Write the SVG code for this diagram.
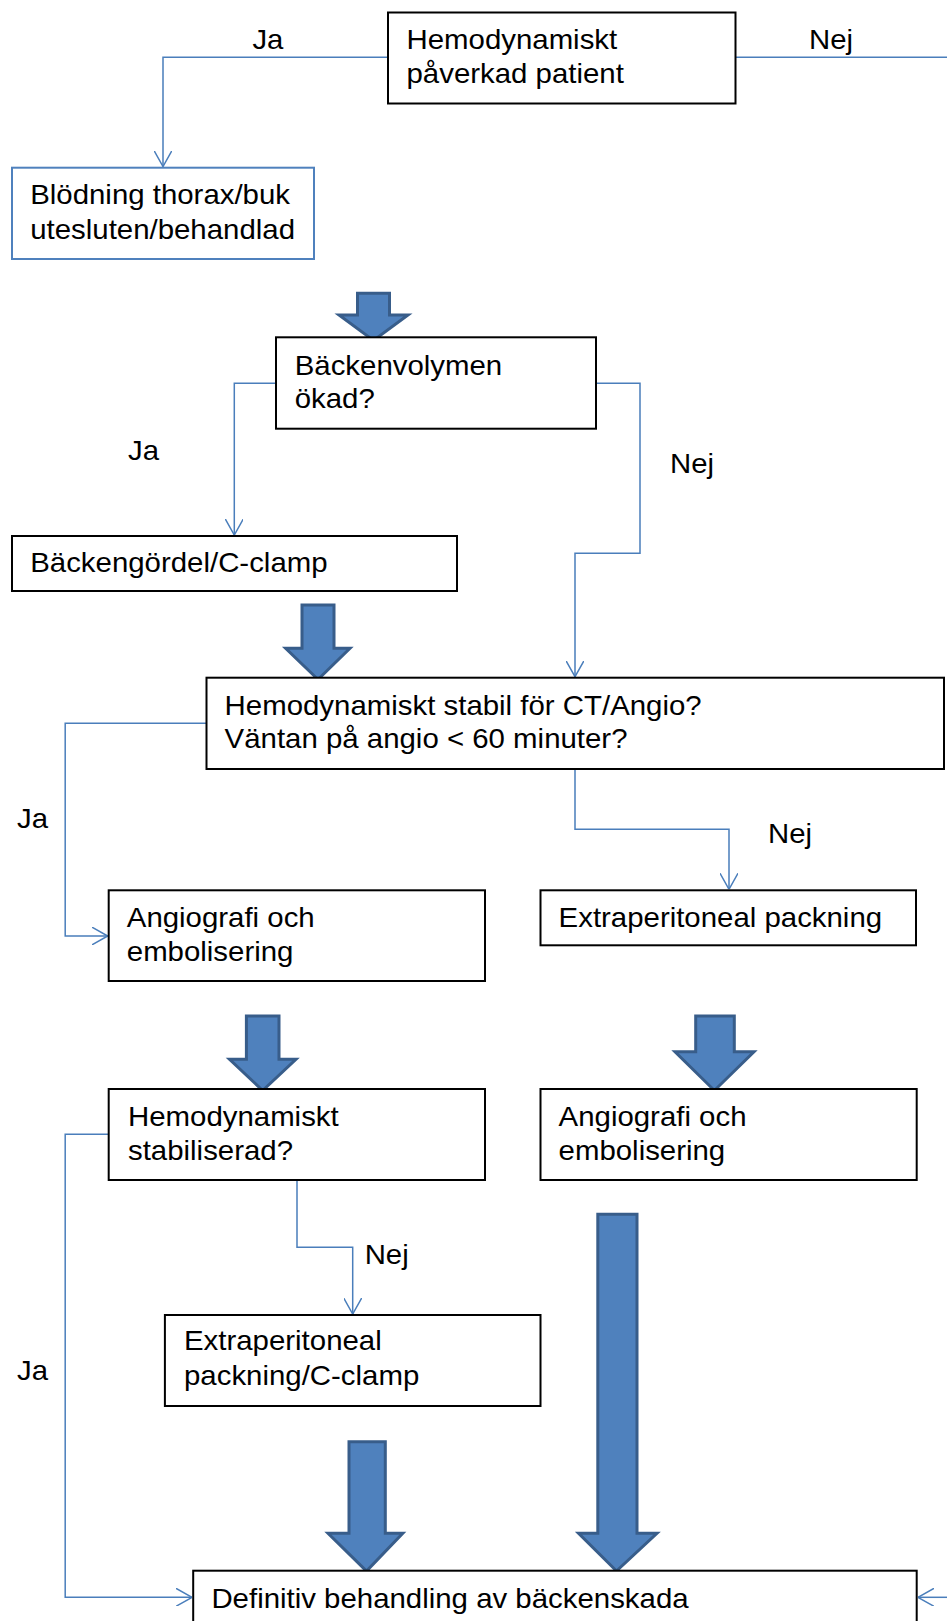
<svg xmlns="http://www.w3.org/2000/svg" width="947" height="1621" viewBox="0 0 947 1621">
<defs>
<style>
.box{fill:#fff;stroke:#000;stroke-width:2}
.bbox{fill:#fff;stroke:#4f81bd;stroke-width:2}
.t{font-family:"Liberation Sans",Arial,sans-serif;font-size:27.8px;fill:#000}
.c{fill:none;stroke:#4a7ebb;stroke-width:1.5}
.big{fill:#4f81bd;stroke:#385d8a;stroke-width:3;stroke-linejoin:miter}
</style>
<marker id="v" viewBox="0 0 16 18" refX="16" refY="9" markerWidth="16" markerHeight="18" markerUnits="userSpaceOnUse" orient="auto">
<path d="M0,0 L16,9 L0,18" fill="none" stroke="#4a7ebb" stroke-width="1.5"/>
</marker>
</defs>
<rect width="947" height="1621" fill="#fff"/>

<g id="connectors">
<path class="c" d="M388,57.3 H163 V166.5" marker-end="url(#v)"/>
<path class="c" d="M735.5,57.3 H947"/>
<path class="c" d="M276,383.3 H234.3 V535" marker-end="url(#v)"/>
<path class="c" d="M596,383.3 H640 V553.3 H575 V676.7" marker-end="url(#v)"/>
<path class="c" d="M206.5,723.3 H65.2 V936 H107.7" marker-end="url(#v)"/>
<path class="c" d="M575,769 V829.3 H729 V889.3" marker-end="url(#v)"/>
<path class="c" d="M108.7,1134.3 H65.2 V1597.3 H192" marker-end="url(#v)"/>
<path class="c" d="M297,1180 V1247.3 H352.7 V1314" marker-end="url(#v)"/>
<path class="c" d="M947,1597.3 H918" marker-end="url(#v)"/>
<polygon class="big" points="357.5,293.3 389.5,293.3 389.5,315 408,315 373.5,340.5 339,315 357.5,315"/>
<polygon class="big" points="302,605 334,605 334,648.3 350,648.3 318,679.5 285.6,648.3 302,648.3"/>
<polygon class="big" points="246.4,1016 279,1016 279,1059.3 296,1059.3 262.7,1090.5 229.5,1059.3 246.4,1059.3"/>
<polygon class="big" points="695.7,1016 734.3,1016 734.3,1051.7 754,1051.7 714.4,1090.5 675,1051.7 695.7,1051.7"/>
<polygon class="big" points="349,1441.7 385.3,1441.7 385.3,1533.3 402.8,1533.3 366.5,1571 328,1533.3 349,1533.3"/>
<polygon class="big" points="597.8,1214.3 637,1214.3 637,1533.3 657,1533.3 616.5,1571 578.5,1533.3 597.8,1533.3"/>
<text class="t" x="252.4" y="49.3" textLength="31" lengthAdjust="spacingAndGlyphs">Ja</text>
<text class="t" x="809" y="49.3" textLength="44" lengthAdjust="spacingAndGlyphs">Nej</text>
<text class="t" x="128" y="460" textLength="31" lengthAdjust="spacingAndGlyphs">Ja</text>
<text class="t" x="670" y="473.3" textLength="44" lengthAdjust="spacingAndGlyphs">Nej</text>
<text class="t" x="17" y="827.7" textLength="31" lengthAdjust="spacingAndGlyphs">Ja</text>
<text class="t" x="768" y="843.3" textLength="44" lengthAdjust="spacingAndGlyphs">Nej</text>
<text class="t" x="364.7" y="1264" textLength="44" lengthAdjust="spacingAndGlyphs">Nej</text>
<text class="t" x="17" y="1380" textLength="31" lengthAdjust="spacingAndGlyphs">Ja</text>
</g>

<g id="n1">
<rect class="box" x="388" y="12.5" width="347.5" height="91"/>
<text class="t" x="406.5" y="49.3" textLength="210.7" lengthAdjust="spacingAndGlyphs">Hemodynamiskt</text>
<text class="t" x="406.5" y="82.7" textLength="217.4" lengthAdjust="spacingAndGlyphs">påverkad patient</text>
</g>
<g id="n2">
<rect class="bbox" x="12" y="167.7" width="302" height="91.3"/>
<text class="t" x="30.2" y="204.3" textLength="259.8" lengthAdjust="spacingAndGlyphs">Blödning thorax/buk</text>
<text class="t" x="30.2" y="238.5" textLength="264.8" lengthAdjust="spacingAndGlyphs">utesluten/behandlad</text>
</g>
<g id="n3">
<rect class="box" x="276" y="337.3" width="320" height="91.4"/>
<text class="t" x="294.7" y="375" textLength="207.5" lengthAdjust="spacingAndGlyphs">Bäckenvolymen</text>
<text class="t" x="294.7" y="408.3" textLength="80.1" lengthAdjust="spacingAndGlyphs">ökad?</text>
</g>
<g id="n4">
<rect class="box" x="12" y="536" width="445" height="55"/>
<text class="t" x="30.2" y="571.7" textLength="297.4" lengthAdjust="spacingAndGlyphs">Bäckengördel/C-clamp</text>
</g>
<g id="n5">
<rect class="box" x="206.5" y="677.7" width="737.5" height="91.3"/>
<text class="t" x="224.6" y="715" textLength="477.1" lengthAdjust="spacingAndGlyphs">Hemodynamiskt stabil för CT/Angio?</text>
<text class="t" x="224.6" y="748" textLength="402.9" lengthAdjust="spacingAndGlyphs">Väntan på angio &lt; 60 minuter?</text>
</g>
<g id="n6">
<rect class="box" x="108.7" y="890.3" width="376.3" height="90.7"/>
<text class="t" x="126.8" y="926.7" textLength="187.9" lengthAdjust="spacingAndGlyphs">Angiografi och</text>
<text class="t" x="126.8" y="960.7" textLength="166.6" lengthAdjust="spacingAndGlyphs">embolisering</text>
</g>
<g id="n7">
<rect class="box" x="540.5" y="890.3" width="375.5" height="55"/>
<text class="t" x="558.6" y="926.7" textLength="323.5" lengthAdjust="spacingAndGlyphs">Extraperitoneal packning</text>
</g>
<g id="n8">
<rect class="box" x="108.7" y="1089" width="376.3" height="91"/>
<text class="t" x="128" y="1125.7" textLength="210.7" lengthAdjust="spacingAndGlyphs">Hemodynamiskt</text>
<text class="t" x="128" y="1160" textLength="165" lengthAdjust="spacingAndGlyphs">stabiliserad?</text>
</g>
<g id="n9">
<rect class="box" x="540.5" y="1089" width="376.2" height="91"/>
<text class="t" x="558.6" y="1125.7" textLength="187.9" lengthAdjust="spacingAndGlyphs">Angiografi och</text>
<text class="t" x="558.6" y="1160" textLength="166.6" lengthAdjust="spacingAndGlyphs">embolisering</text>
</g>
<g id="n10">
<rect class="box" x="164.9" y="1315" width="375.6" height="91"/>
<text class="t" x="184" y="1350" textLength="197.7" lengthAdjust="spacingAndGlyphs">Extraperitoneal</text>
<text class="t" x="184" y="1385" textLength="235.3" lengthAdjust="spacingAndGlyphs">packning/C-clamp</text>
</g>
<g id="n11">
<rect class="box" x="193.2" y="1570.7" width="723.5" height="80"/>
<text class="t" x="211.4" y="1608.3" textLength="477.2" lengthAdjust="spacingAndGlyphs">Definitiv behandling av bäckenskada</text>
</g>
</svg>
